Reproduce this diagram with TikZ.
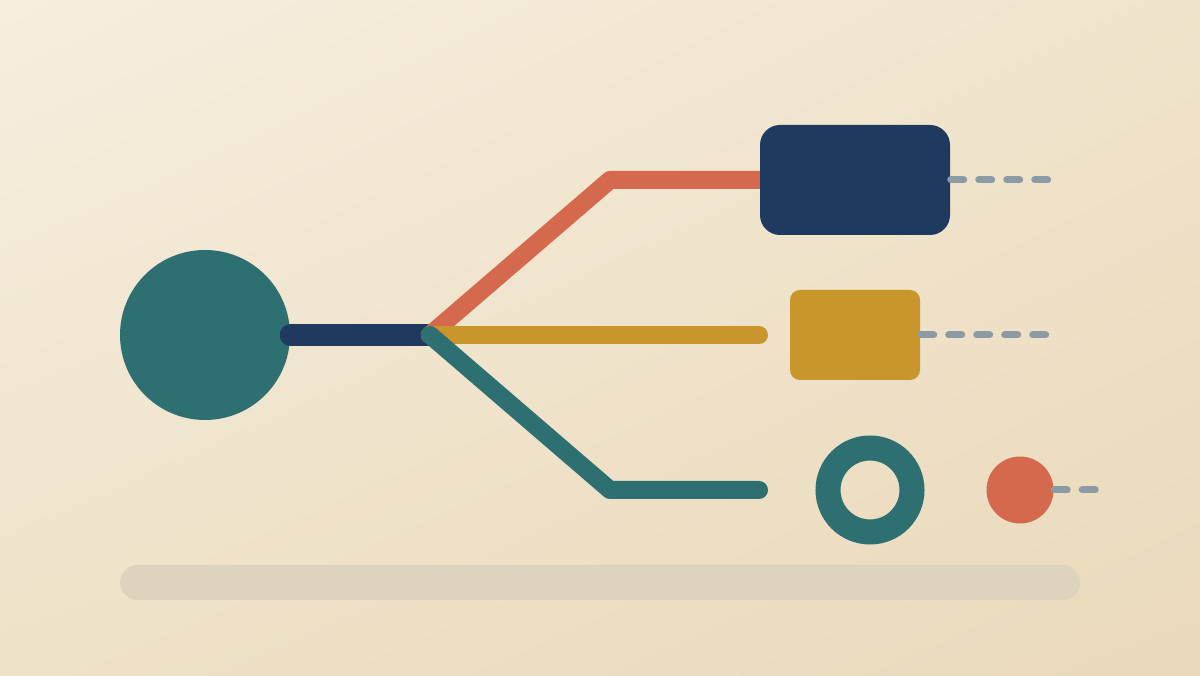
\documentclass[tikz,border=0pt]{standalone}
\usetikzlibrary{shadings}
\definecolor{navyc}{HTML}{1F3A5F}
\definecolor{tealc}{HTML}{2E6F71}
\definecolor{orangec}{HTML}{D4694E}
\definecolor{yellowc}{HTML}{C9962B}
\definecolor{grayc}{HTML}{8E9AA3}
\definecolor{bgA}{HTML}{F6EEDF}
\definecolor{bgB}{HTML}{F0E4CC}
\definecolor{bgC}{HTML}{EEE2C8}
\definecolor{bgD}{HTML}{EAD9BA}
\definecolor{barc}{HTML}{DED3BD}
\tikzset{
  branch/.style={line width=1.8mm, line cap=round, line join=round},
  trail/.style={grayc, line width=0.7mm, line cap=round, dash pattern=on 1.3mm off 1.5mm},
}
\begin{document}
\begin{tikzpicture}[x=0.1mm,y=-0.1mm]
\useasboundingbox (0,0) rectangle (1200,676);
\shade[upper left=bgA, upper right=bgB, lower left=bgC, lower right=bgD] (0,0) rectangle (1200,676);
\fill[barc, rounded corners=1.75mm] (120,565) rectangle (1080,600);

\node[circle, fill=tealc, minimum size=17mm, inner sep=0pt] (src) at (205,335) {};
\coordinate (j) at (430,335);
\coordinate (o1) at (610,180);
\coordinate (t1) at (610,490);
\coordinate (yend) at (759,335);
\coordinate (tend) at (759,490);
\coordinate (d1) at (1048,180);
\coordinate (d2) at (1048,335);
\coordinate (d3) at (1097,490);

\draw[navyc, line width=2.2mm, line cap=round] (src.east) -- (j);
\draw[branch, orangec] (j) -- (o1) -- (780,180);
\draw[branch, yellowc] (j) -- (yend);
\draw[branch, tealc] (j) -- (t1) -- (tend);

\node[rectangle, rounded corners=2mm, fill=navyc, minimum width=19mm, minimum height=11mm, inner sep=0pt] (b1) at (855,180) {};
\node[rectangle, rounded corners=1mm, fill=yellowc, minimum width=13mm, minimum height=9mm, inner sep=0pt] (b2) at (855,335) {};
\node[circle, draw=tealc, line width=2.5mm, minimum size=8.4mm, inner sep=0pt] (ring) at (870,490) {};
\node[circle, fill=orangec, minimum size=6.7mm, inner sep=0pt] (dot) at (1020,490) {};

\draw[trail] (b1.east) -- (d1);
\draw[trail] (b2.east) -- (d2);
\draw[trail] (dot.east) -- (d3);
\end{tikzpicture}
\end{document}
